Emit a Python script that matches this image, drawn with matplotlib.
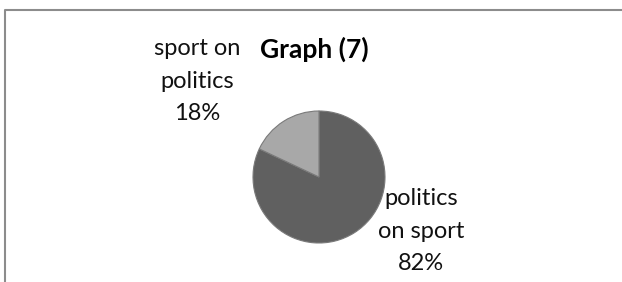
import matplotlib
matplotlib.use('Agg')
import matplotlib.pyplot as plt

# data
labels = ["politics\non sport", "sport on\npolitics"]
shares = [82, 18]
colors = ["#606060", "#a8a8a8"]
title = "Graph (7)"

plt.rcParams['font.family'] = ['Lato', 'DejaVu Sans']

W, H = 622, 282
fig = plt.figure(figsize=(6.22, 2.82), dpi=100)
ax = fig.add_axes([0, 0, 1, 1])

wedges, _ = ax.pie(shares, colors=colors, startangle=90, counterclock=False,
                   center=(319, H - 177), radius=66,
                   wedgeprops=dict(edgecolor="#7a7a7a", linewidth=0.8))

# pixel-like coordinates, y measured upward
ax.set_xlim(0, W)
ax.set_ylim(0, H)
ax.set_aspect('equal')
ax.axis('off')

# chart frame (only top and left edges visible)
ax.plot([5, 5, W], [0, H - 10, H - 10], color="#8c8c8c", lw=1.5, solid_capstyle='butt')

ax.text(314, H - 49, title, ha='center', va='center', fontsize=19, fontweight='bold')

label_pos = [(421, H - 231), (197, H - 81)]
for (x, y), lab, s in zip(label_pos, labels, shares):
    ax.text(x, y, f"{lab}\n{s}%", ha='center', va='center', fontsize=17,
            linespacing=1.65, color="#111111")

fig.savefig("out.png", dpi=100)
